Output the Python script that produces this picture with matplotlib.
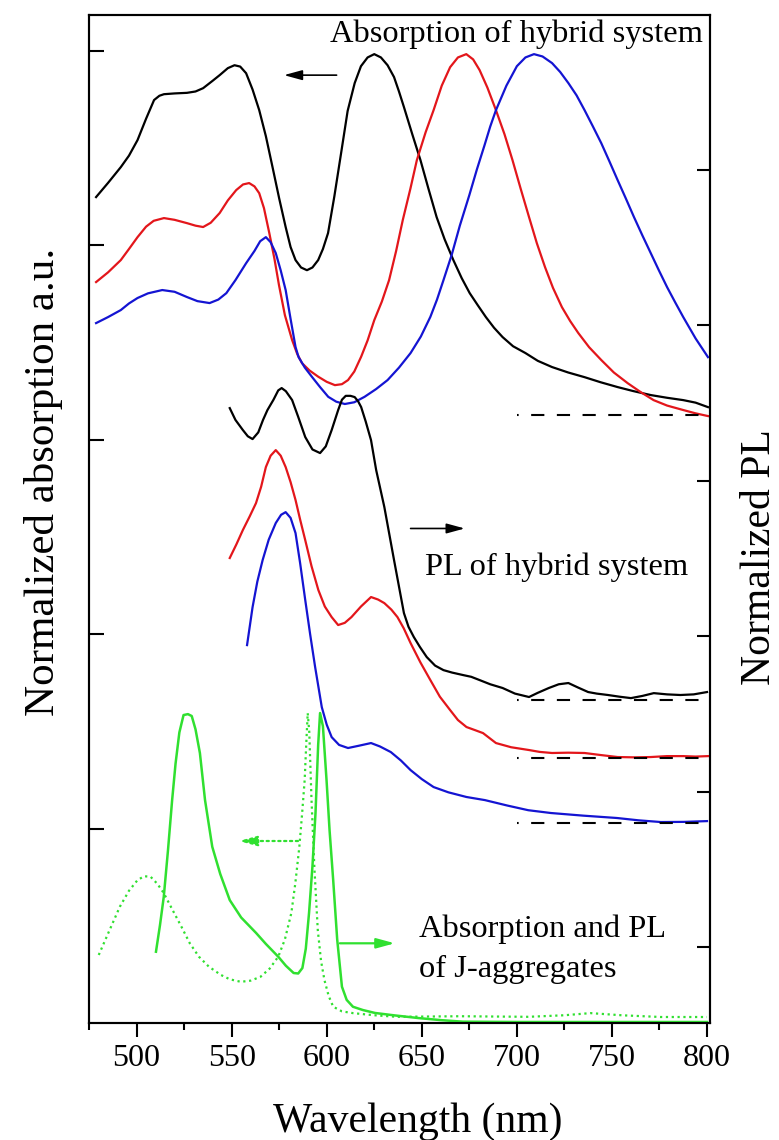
import matplotlib
matplotlib.use('Agg')
import matplotlib.pyplot as plt

plt.rcParams['font.family'] = ['Liberation Serif', 'DejaVu Serif']
plt.rcParams['lines.scale_dashes'] = False

# ---- absorption of hybrid system (left axis, offset units) ----
abs_black_nm = [478.7, 485, 491.7, 496, 500.5, 505, 509.2, 512, 514.4, 520, 526.5, 531, 535, 540,
                543.7, 548, 551.5, 554.5, 557.6, 561, 564.5, 568, 571.5, 575, 578.4, 581, 583.6,
                586.5, 589.6, 592.5, 595.5, 598, 600.7, 604, 607.8, 611, 614.7, 618, 621.5, 625,
                628.5, 632, 635.4, 638, 640.6, 645, 649.3, 653.5, 657.8, 662, 666.6, 671, 675.2,
                679.5, 683.7, 688, 692.5, 698, 704.5, 711, 718.5, 727, 735.6, 744, 753, 761,
                770.4, 779, 787.5, 794, 800.5]
abs_black = [4.247, 4.32, 4.401, 4.46, 4.540, 4.65, 4.746, 4.768, 4.776, 4.780, 4.783, 4.79, 4.807,
             4.845, 4.874, 4.91, 4.925, 4.918, 4.884, 4.80, 4.694, 4.56, 4.401, 4.24, 4.093, 3.99,
             3.923, 3.885, 3.871, 3.885, 3.923, 3.98, 4.062, 4.25, 4.488, 4.69, 4.833, 4.92,
             4.965, 4.982, 4.965, 4.925, 4.864, 4.79, 4.710, 4.57, 4.437, 4.29, 4.144, 4.03,
             3.923, 3.83, 3.753, 3.69, 3.630, 3.575, 3.527, 3.48, 3.445, 3.405, 3.373, 3.345,
             3.321, 3.295, 3.270, 3.25, 3.229, 3.215, 3.203, 3.19, 3.167]

abs_red_nm = [478.7, 485, 491.7, 496, 500.5, 505, 509, 514.4, 520, 526.5, 531, 535, 539, 543.7,
              548, 552.4, 556, 559.2, 562, 564.5, 567, 569.8, 572.5, 574.9, 578, 581.8, 584.5,
              587, 591, 595.6, 600, 604.3, 608, 611.2, 614.5, 618.1, 621.5, 625, 629, 632.8,
              636.5, 640, 644, 647.4, 652, 656.2, 660.5, 664.9, 669, 673.4, 677, 680.4, 684.5,
              689, 693.5, 697.7, 702, 706.4, 710.5, 714.8, 719, 723.7, 728, 732.3, 738, 744.4,
              751, 758.3, 765, 771.9, 779, 787.5, 794, 800.5]
abs_red = [3.810, 3.86, 3.923, 3.98, 4.041, 4.095, 4.125, 4.139, 4.13, 4.113, 4.10, 4.093, 4.115,
           4.165, 4.23, 4.283, 4.312, 4.319, 4.302, 4.267, 4.19, 4.062, 3.93, 3.794, 3.64, 3.512,
           3.44, 3.393, 3.355, 3.323, 3.297, 3.280, 3.285, 3.306, 3.35, 3.426, 3.51, 3.614,
           3.71, 3.820, 3.97, 4.129, 4.29, 4.437, 4.58, 4.694, 4.82, 4.915, 4.965, 4.982, 4.955,
           4.900, 4.81, 4.694, 4.57, 4.437, 4.29, 4.144, 4.01, 3.887, 3.78, 3.681, 3.61, 3.548,
           3.475, 3.409, 3.345, 3.290, 3.245, 3.203, 3.175, 3.152, 3.135, 3.121]

abs_blue_nm = [478.7, 485, 491.7, 496, 500.5, 506, 513.5, 520, 526.5, 532, 538.4, 543, 547.2, 552,
               557.6, 562, 565, 568, 570.5, 573.2, 575.8, 578.4, 581, 583.6, 585.2, 588.5, 592.2,
               596.5, 600.8, 605, 609.5, 614.5, 619.9, 626, 632, 638, 644.1, 649.5, 654.5, 658,
               661.4, 665.7, 670, 675, 679, 683, 686, 689, 694.5, 700, 704.5, 709, 713.5, 718.5,
               722.8, 727.1, 731.4, 735.6, 740, 744.4, 748.7, 753, 757.3, 761.6, 766, 770.4,
               774.7, 779, 783.3, 787.5, 794, 800.5]
abs_blue = [3.599, 3.63, 3.666, 3.70, 3.728, 3.752, 3.769, 3.76, 3.733, 3.712, 3.702, 3.72, 3.753,
            3.82, 3.907, 3.97, 4.02, 4.041, 4.015, 3.959, 3.87, 3.769, 3.62, 3.476, 3.424, 3.37,
            3.323, 3.27, 3.220, 3.195, 3.183, 3.192, 3.220, 3.26, 3.306, 3.37, 3.445, 3.53,
            3.631, 3.72, 3.820, 3.949, 4.10, 4.257, 4.39, 4.514, 4.61, 4.694, 4.82, 4.920, 4.965,
            4.982, 4.97, 4.936, 4.89, 4.833, 4.77, 4.694, 4.61, 4.524, 4.43, 4.334, 4.24, 4.144,
            4.05, 3.959, 3.87, 3.784, 3.705, 3.630, 3.52, 3.424]

# ---- J-aggregate absorption (left axis, dotted) ----
abs_j_nm = [480.1, 485, 491.2, 496, 500.5, 504, 507.4, 511, 514.3, 519, 523.6, 528, 532.8, 538,
            544.4, 549, 554.8, 560, 565.2, 570, 574.5, 578, 581.4, 583.5, 585.6, 587, 588.4,
            589.3, 590, 590.8, 592, 593.5, 595.3, 597, 598.8, 601, 603.4, 608, 613.8, 625, 637,
            670, 706, 725, 738.7, 755, 775.7, 800]
abs_j = [0.350, 0.46, 0.598, 0.68, 0.735, 0.755, 0.752, 0.715, 0.668, 0.58, 0.495, 0.41, 0.341,
         0.29, 0.247, 0.225, 0.212, 0.218, 0.238, 0.28, 0.341, 0.43, 0.566, 0.72, 0.906, 1.07,
         1.249, 1.45, 1.594, 1.50, 1.147, 0.80, 0.478, 0.32, 0.221, 0.14, 0.084, 0.06, 0.051,
         0.04, 0.032, 0.035, 0.032, 0.04, 0.051, 0.04, 0.031, 0.031]

# ---- PL of hybrid system (right axis, offset units) ----
pl_black_nm = [549, 552, 555.9, 558.5, 561, 564, 566.5, 568.8, 572, 574.5, 576.3, 578.5, 581.8,
               585, 588.7, 592.5, 596.5, 599.5, 602.6, 606, 608, 610, 612.5, 614.7, 616.5, 618.1,
               620.5, 623.3, 626, 630.3, 635.4, 640.6, 643, 645.8, 649, 652.6, 657, 661.4, 666,
               671.8, 676, 680.4, 686, 692.5, 699, 706.4, 711, 716.8, 722, 727.1, 732, 737.5, 742,
               747.9, 754, 760, 766, 772, 779, 786, 793, 800]
pl_black = [3.466, 3.39, 3.325, 3.285, 3.267, 3.31, 3.39, 3.453, 3.52, 3.58, 3.595, 3.575, 3.518,
            3.41, 3.280, 3.20, 3.177, 3.22, 3.325, 3.453, 3.52, 3.545, 3.545, 3.537, 3.51, 3.473,
            3.38, 3.260, 3.068, 2.830, 2.489, 2.148, 2.06, 1.994, 1.93, 1.865, 1.81, 1.781, 1.765,
            1.749, 1.738, 1.717, 1.69, 1.666, 1.63, 1.608, 1.635, 1.666, 1.69, 1.698, 1.67,
            1.640, 1.63, 1.621, 1.61, 1.601, 1.615, 1.633, 1.625, 1.621, 1.625, 1.640]

pl_red_nm = [549, 552.5, 555.9, 559.5, 562.8, 565.5, 568, 570.5, 573.2, 575.8, 578.4, 581, 583.6,
             586, 588.7, 592, 595.6, 599, 602.6, 606, 609.5, 613, 618, 623.3, 627, 630.3, 634,
             637.2, 640.5, 644.1, 649.3, 654.5, 659.5, 664.9, 669, 673.5, 678, 682.2, 689, 697,
             706.4, 712, 718.5, 727, 735.6, 744, 753, 762, 770.4, 779, 787.5, 794, 800.5]
pl_red = [2.502, 2.59, 2.682, 2.77, 2.855, 2.96, 3.087, 3.16, 3.196, 3.16, 3.087, 2.99, 2.875,
          2.75, 2.617, 2.45, 2.296, 2.19, 2.122, 2.071, 2.085, 2.122, 2.19, 2.251, 2.235, 2.212,
          2.17, 2.122, 2.05, 1.955, 1.83, 1.717, 1.61, 1.524, 1.46, 1.415, 1.395, 1.376, 1.312,
          1.285, 1.267, 1.255, 1.248, 1.25, 1.248, 1.235, 1.222, 1.22, 1.222, 1.228, 1.228,
          1.225, 1.228]

pl_blue_nm = [558.1, 561, 563.5, 566.3, 569.5, 573.2, 576, 578.4, 581, 583.6, 586, 588.7, 591.3,
              593.9, 597.4, 600, 602.6, 606.5, 611.2, 617, 623.3, 628, 633.7, 639, 644.1, 650,
              656.2, 664, 673.5, 683.2, 695, 706, 717.9, 735, 752.6, 764, 775.7, 788, 800]
pl_blue = [1.942, 2.186, 2.35, 2.489, 2.62, 2.727, 2.78, 2.797, 2.76, 2.662, 2.47, 2.232, 2.01,
           1.801, 1.543, 1.43, 1.350, 1.30, 1.280, 1.295, 1.312, 1.29, 1.254, 1.20, 1.138, 1.08,
           1.029, 0.995, 0.965, 0.945, 0.91, 0.88, 0.862, 0.845, 0.830, 0.815, 0.804, 0.805, 0.810]

# ---- J-aggregate PL (right axis, solid) ----
pl_j_nm = [510.2, 512.3, 514.3, 516.5, 518.7, 520.5, 522.5, 524.7, 527, 529, 531, 533.3, 536,
           539.8, 544, 549, 555, 562.9, 568, 574.5, 578.5, 582.6, 585, 587.2, 589, 590.7, 592.5,
           594.1, 595.5, 596.5, 598, 599.9, 601.5, 603.4, 605.5, 608, 610.5, 613.8, 619, 625.4,
           636, 648.5, 660, 671.6, 700, 800]
pl_j = [-0.030, 0.14, 0.323, 0.62, 0.945, 1.18, 1.38, 1.492, 1.498, 1.486, 1.40, 1.248, 0.945,
        0.645, 0.47, 0.302, 0.19, 0.090, 0.02, -0.062, -0.12, -0.167, -0.17, -0.135, -0.01,
        0.219, 0.52, 0.862, 1.30, 1.505, 1.42, 1.074, 0.75, 0.431, 0.05, -0.255, -0.34, -0.384,
        -0.405, -0.424, -0.44, -0.457, -0.47, -0.480, -0.482, -0.482]

# zero lines of the offset curves (700-800 nm)
abs_baseline = 3.126
pl_baselines = [1.588, 1.215, 0.799]

xticks = [500, 550, 600, 650, 700, 750, 800]

red = '#e3161b'
blue = '#1414d2'
green = '#30e030'

fig = plt.figure(figsize=(7.79, 11.40), dpi=100)
ax = fig.add_axes([0.1143, 0.1026, 0.7972, 0.8842])
ax2 = ax.twinx()

ax.plot(abs_black_nm, abs_black, color='black', lw=1.6)
ax.plot(abs_red_nm, abs_red, color=red, lw=1.6)
ax.plot(abs_blue_nm, abs_blue, color=blue, lw=1.6)
ax.plot(abs_j_nm, abs_j, color=green, lw=1.6, linestyle=(0, (1.6, 2.6)))

ax2.plot(pl_black_nm, pl_black, color='black', lw=1.6)
ax2.plot(pl_red_nm, pl_red, color=red, lw=1.6)
ax2.plot(pl_blue_nm, pl_blue, color=blue, lw=1.6)
ax2.plot(pl_j_nm, pl_j, color=green, lw=1.8)

dash = (0, (1.2, 9) + (9.5, 9) * 9)
ax.plot([700, 800], [abs_baseline] * 2, color='black', lw=1.5, linestyle=dash)
for b in pl_baselines:
    ax2.plot([700, 800], [b, b], color='black', lw=1.5, linestyle=dash)

ax.set_xlim(479.3, 801.6)
ax.set_ylim(0, 5.183)
ax2.set_ylim(-0.4887, 5.994)

ax.set_xticks(xticks)
ax.set_xticks(range(475, 801, 25), minor=True)
ax.set_yticks([1, 2, 3, 4, 5])
ax2.set_yticks([0, 1, 2, 3, 4, 5])
ax.tick_params(axis='x', which='major', direction='out', length=10, width=1.5,
               labelsize=23, pad=5, top=False)
ax.tick_params(axis='x', which='minor', direction='out', length=5, width=1.5, top=False)
ax.tick_params(axis='y', direction='in', length=11, width=1.5, labelleft=False)
ax2.tick_params(axis='y', direction='in', length=9.5, width=1.5, labelright=False)
for a in (ax, ax2):
    for s in a.spines.values():
        s.set_linewidth(1.5)

ax.set_xlabel('Wavelength (nm)', fontsize=30, va='center', ha='center')
ax.xaxis.set_label_coords(0.53, -0.098)
ax.set_ylabel('Normalized absorption a.u.', fontsize=31, va='center', ha='center')
ax.yaxis.set_label_coords(-0.073, 0.537)
ax2.set_ylabel('Normalized PL', fontsize=30, va='center', ha='center', rotation=90)
ax2.yaxis.set_label_coords(1.08, 0.462)

# annotations
ax.text(601.7, 5.044, 'Absorption of hybrid system', fontsize=23.4, va='baseline', ha='left')
ax.text(651.9, 2.303, 'PL of hybrid system', fontsize=23.4, va='baseline', ha='left')
ax.text(648.5, 0.444, 'Absorption and PL', fontsize=23.4, va='baseline', ha='left')
ax.text(648.5, 0.238, 'of J-aggregates', fontsize=23.4, va='baseline', ha='left')

head = '-|>,head_length=1.1,head_width=0.3'
ax.annotate('', xy=(577.5, 4.874), xytext=(605.2, 4.874),
            arrowprops=dict(arrowstyle=head, color='black', lw=1.2, shrinkA=0, shrinkB=0,
                            mutation_scale=10))
ax.annotate('', xy=(672.6, 2.543), xytext=(644.1, 2.543),
            arrowprops=dict(arrowstyle=head, color='black', lw=1.2, shrinkA=0, shrinkB=0,
                            mutation_scale=10))
ax.annotate('', xy=(553.7, 0.936), xytext=(584.9, 0.936),
            arrowprops=dict(arrowstyle=head, color=green, lw=1.6, shrinkA=0, shrinkB=0,
                            mutation_scale=10, linestyle=(0, (1.6, 2.6))))
ax.annotate('', xy=(635.8, 0.410), xytext=(606.9, 0.410),
            arrowprops=dict(arrowstyle=head, color=green, lw=1.6, shrinkA=0, shrinkB=0,
                            mutation_scale=10))

fig.savefig('out.png', dpi=100)
